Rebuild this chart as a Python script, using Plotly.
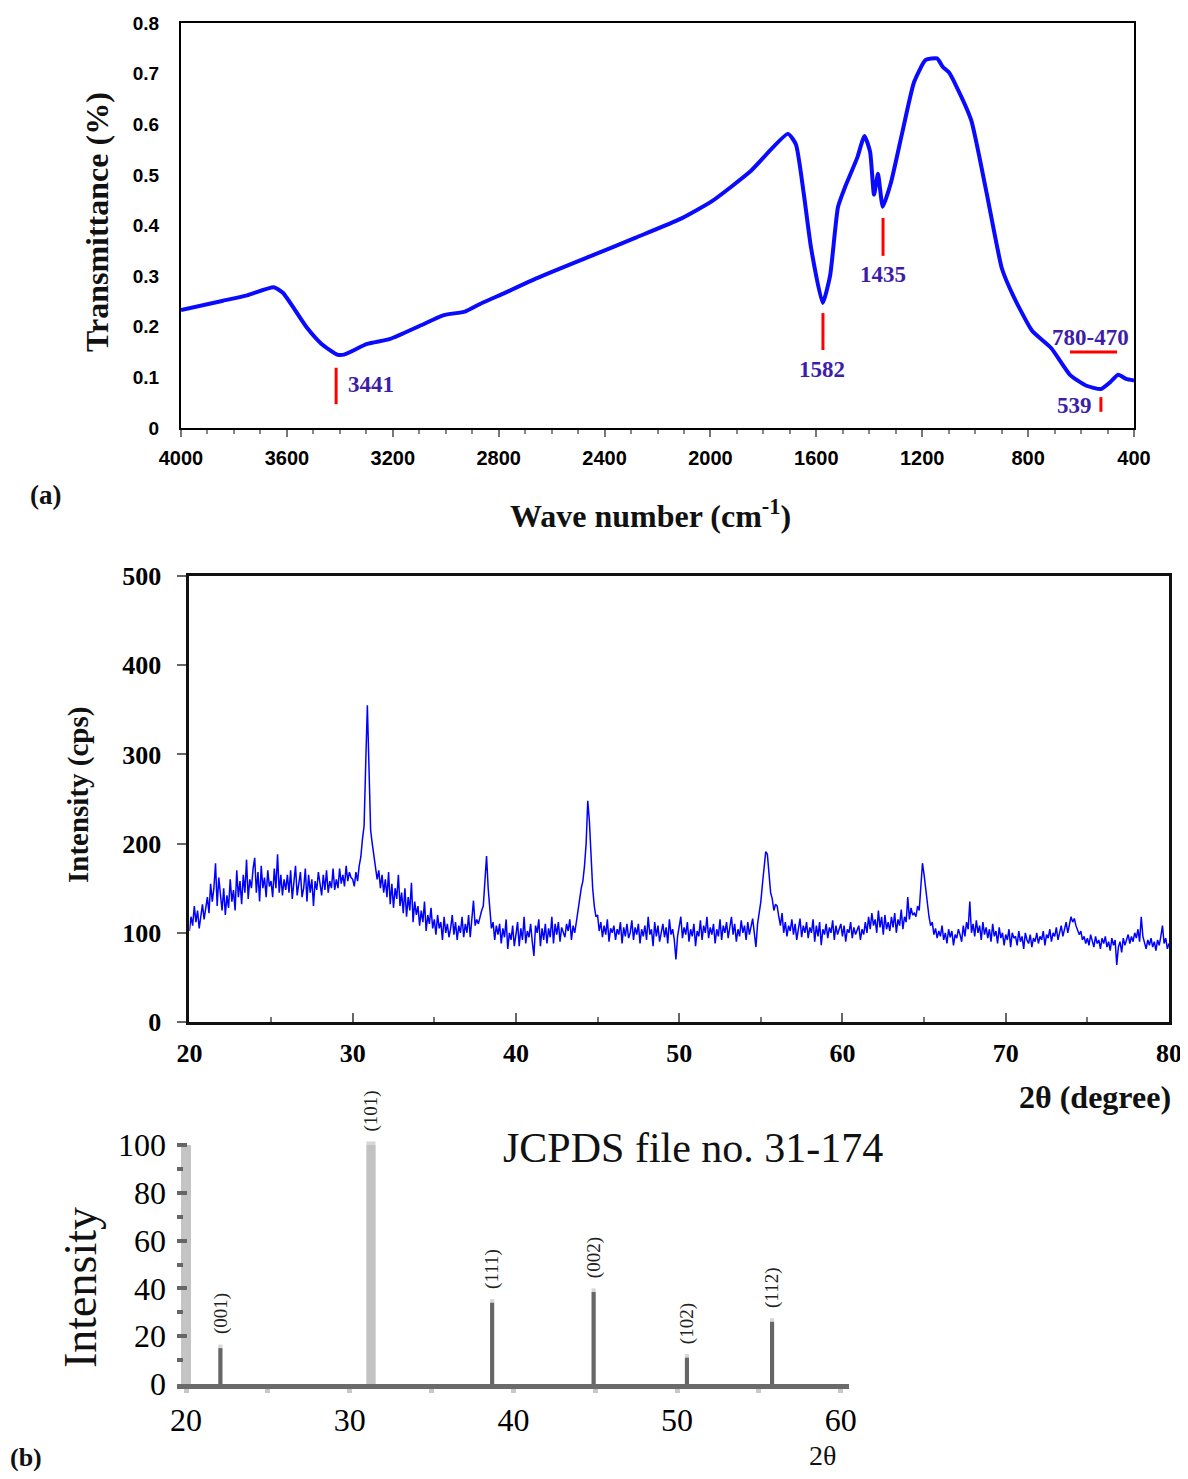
import numpy as np
import plotly.graph_objects as go

# page body keeps an 8 px margin, so the figure is 16 px smaller than the window
PAD = 8
W, H = 1188 - 2 * PAD, 1479 - 2 * PAD

# ---------------------------------- (a) FTIR spectrum ----------------------------------
wave_number = [4000, 3845, 3750, 3650, 3615, 3527, 3469, 3410, 3384, 3297, 3210, 3093,
               3007, 2927, 2863, 2776, 2660, 2455, 2282, 2109, 1994, 1851, 1707, 1677,
               1648, 1620, 1576, 1548, 1518, 1490, 1446, 1418, 1397, 1382, 1367, 1349,
               1318, 1274, 1231, 1187, 1144, 1122, 1100, 1072, 1015, 957, 899, 856,
               785, 713, 642, 582, 525, 489, 460, 430, 400]
transmittance = [0.233, 0.251, 0.262, 0.278, 0.267, 0.200, 0.166, 0.145, 0.145, 0.166, 0.176, 0.203,
                 0.223, 0.230, 0.247, 0.267, 0.295, 0.339, 0.376, 0.414, 0.448, 0.506, 0.581, 0.560,
                 0.465, 0.356, 0.247, 0.301, 0.437, 0.478, 0.533, 0.577, 0.546, 0.461, 0.502, 0.437,
                 0.485, 0.587, 0.683, 0.727, 0.730, 0.713, 0.703, 0.676, 0.608, 0.465, 0.315, 0.261,
                 0.192, 0.158, 0.105, 0.084, 0.077, 0.091, 0.105, 0.097, 0.094]

# band markers (red) and their labels
mark_wn = [3414, 1575, 1348, 525]
mark_lo = [0.047, 0.154, 0.340, 0.032]
mark_hi = [0.119, 0.227, 0.415, 0.061]
band_from, band_to, band_level = 642, 464, 0.150
band_labels = ["3441", "1582", "1435", "780-470", "539"]
label_wn = [3282, 1579, 1348, 566, 623]
label_t = [0.085, 0.115, 0.304, 0.178, 0.045]

# ---------------------------------- (b) XRD pattern ----------------------------------
two_theta = np.round(np.arange(200, 801) / 10, 1)
intensity = [
    102, 118, 108, 130, 112, 125, 105, 120, 132, 115,
    128, 140, 122, 155, 135, 150, 178, 130, 162, 138,
    125, 150, 120, 142, 128, 160, 135, 148, 125, 170,
    140, 158, 132, 165, 145, 182, 138, 160, 150, 172,
    184, 145, 168, 135, 175, 150, 162, 140, 170, 152,
    158, 140, 172, 150, 188, 145, 165, 142, 160, 148,
    165, 145, 170, 138, 160, 175, 142, 155, 168, 140,
    150, 172, 135, 165, 145, 160, 130, 158, 148, 168,
    152, 142, 165, 148, 170, 145, 158, 150, 172, 148,
    160, 150, 172, 155, 165, 152, 175, 158, 168, 162,
    160, 152, 168, 158, 175, 185, 205, 220, 290, 355,
    285, 215, 200, 185, 175, 160, 170, 150, 165, 145,
    160, 140, 168, 132, 155, 128, 150, 138, 165, 130,
    145, 122, 150, 118, 140, 125, 156, 112, 135, 120,
    130, 108, 125, 112, 135, 102, 120, 110, 128, 105,
    115, 98, 120, 105, 112, 92, 118, 100, 110, 95,
    105, 120, 98, 112, 92, 108, 100, 118, 95, 110,
    100, 120, 95, 112, 136, 108, 115, 110, 118, 125,
    130, 160, 186, 150, 125, 105, 112, 92, 108, 98,
    110, 88, 105, 95, 115, 82, 100, 92, 108, 85,
    98, 112, 85, 105, 92, 118, 88, 102, 95, 110,
    90, 74, 108, 100, 115, 85, 105, 92, 110, 88,
    105, 95, 118, 88, 110, 98, 112, 90, 106, 100,
    95, 110, 102, 115, 92, 108, 100, 112, 125, 140,
    150, 158, 175, 200, 248, 225, 185, 150, 130, 118,
    120, 102, 112, 95, 108, 98, 115, 90, 105, 100,
    108, 92, 104, 98, 112, 88, 106, 96, 110, 94,
    100, 114, 92, 106, 98, 110, 88, 104, 96, 108,
    92, 118, 98, 104, 85, 112, 96, 108, 90, 102,
    110, 95, 106, 88, 115, 98, 104, 92, 70, 96,
    108, 118, 94, 106, 98, 112, 90, 104, 96, 110,
    85, 102, 96, 114, 92, 108, 100, 118, 94, 106,
    98, 110, 88, 104, 96, 115, 92, 108, 100, 112,
    94, 106, 118, 98, 110, 90, 104, 96, 114, 100,
    108, 92, 112, 98, 106, 116, 100, 84, 110, 122,
    135, 155, 175, 191, 188, 165, 145, 138, 125, 132,
    130, 118, 108, 122, 100, 112, 96, 108, 102, 115,
    98, 110, 92, 104, 116, 95, 108, 100, 112, 94,
    106, 100, 115, 90, 108, 96, 112, 86, 104, 98,
    110, 94, 106, 100, 114, 92, 108, 98, 104, 110,
    96, 108, 90, 104, 100, 112, 94, 106, 98, 102,
    108, 92, 104, 98, 112, 100, 118, 104, 122, 108,
    115, 100, 125, 106, 118, 98, 120, 104, 112, 102,
    118, 106, 122, 100, 115, 108, 126, 104, 118, 112,
    140, 115, 128, 120, 122, 118, 130, 125, 150, 178,
    165, 148, 130, 118, 108, 112, 98, 105, 94, 102,
    96, 108, 92, 100, 88, 104, 95, 102, 86, 98,
    94, 104, 98, 90, 108, 96, 112, 104, 135, 100,
    110, 96, 114, 100, 108, 92, 112, 98, 106, 94,
    104, 90, 110, 96, 102, 88, 106, 94, 100, 86,
    98, 92, 104, 84, 100, 94, 96, 86, 102, 90,
    96, 82, 100, 92, 88, 98, 84, 94, 90, 100,
    88, 96, 92, 102, 86, 98, 94, 104, 90, 100,
    96, 106, 92, 100, 108, 96, 104, 112, 100, 110,
    118, 112, 116, 108, 104, 98, 102, 92, 96, 88,
    94, 86, 98, 90, 84, 96, 88, 92, 82, 94,
    88, 96, 84, 90, 80, 94, 86, 92, 64, 84,
    90, 78, 94, 86, 92, 98, 88, 96, 90, 100,
    94, 104, 90, 118, 96, 88, 82, 92, 86, 94,
    84, 90, 80, 92, 86, 96, 108, 88, 94, 82,
    88,
]

# ---------------------------------- JCPDS 31-174 sticks ----------------------------------
jcpds_hkl = ["(001)", "(101)", "(111)", "(002)", "(102)", "(112)"]
jcpds_2theta = [22.1, 31.3, 38.7, 44.9, 50.6, 55.8]
jcpds_int = [15, 100, 34, 38.5, 11, 26]


# window pixel -> paper fraction
def fx(p):
    return (p - PAD) / W


def fy(p):
    return 1 - (p - PAD) / H


blue_text = "#3c1eaa"
serif = "Liberation Serif"
sans = "Liberation Sans"

fig = go.Figure()

# FTIR curve
fig.add_trace(go.Scatter(x=wave_number, y=transmittance, mode="lines",
                         line=dict(color="#0a0aff", width=4, shape="spline", smoothing=0.5),
                         xaxis="x", yaxis="y", showlegend=False))

# red marks
mx, my = [], []
for w, lo, hi in zip(mark_wn, mark_lo, mark_hi):
    mx += [w, w, None]
    my += [lo, hi, None]
mx += [band_from, band_to]
my += [band_level, band_level]
fig.add_trace(go.Scatter(x=mx, y=my, mode="lines", line=dict(color="#ff0000", width=3),
                         xaxis="x", yaxis="y", showlegend=False))

# XRD
fig.add_trace(go.Scatter(x=two_theta, y=intensity, mode="lines",
                         line=dict(color="#0000ff", width=1.5),
                         xaxis="x2", yaxis="y2", showlegend=False))

# JCPDS sticks: light caps behind, dark sticks on top
widths = [0.55 if h == "(101)" else 0.25 for h in jcpds_hkl]
colors = ["#c2c2c2" if h == "(101)" else "#666666" for h in jcpds_hkl]
fig.add_trace(go.Bar(x=jcpds_2theta, y=[v + 1.5 for v in jcpds_int], width=widths,
                     marker=dict(color="#d6d6d6", line=dict(width=0)),
                     xaxis="x3", yaxis="y3", showlegend=False))
fig.add_trace(go.Bar(x=jcpds_2theta, y=jcpds_int, width=widths,
                     marker=dict(color=colors, line=dict(width=0)),
                     xaxis="x3", yaxis="y3", showlegend=False))

annotations = []
for t, w, tv in zip(band_labels, label_wn, label_t):
    annotations.append(dict(x=w, y=tv, xref="x", yref="y", text=t, showarrow=False,
                            xanchor="center", yanchor="middle",
                            font=dict(family=serif, size=23, color=blue_text, weight="bold")))

for h, x, v in zip(jcpds_hkl, jcpds_2theta, jcpds_int):
    annotations.append(dict(x=x, y=v + 5, xref="x3", yref="y3", text=h, showarrow=False,
                            textangle=-90, xanchor="center", yanchor="bottom",
                            font=dict(family=serif, size=19, color="#222222")))


def paper_text(px, py, text, size, bold=False, angle=0):
    return dict(x=fx(px), y=fy(py), xref="paper", yref="paper", text=text,
                showarrow=False, textangle=angle, xanchor="center", yanchor="middle",
                font=dict(family=serif, size=size, color="#111111",
                          weight="bold" if bold else "normal"))


annotations += [
    paper_text(97, 222, "Transmittance (%)", 32, True, -90),
    paper_text(650, 514, "Wave number (cm<sup>-1</sup>)", 32, True),
    paper_text(45, 495, "(a)", 27, True),
    paper_text(78, 795, "Intensity (cps)", 29, True, -90),
    paper_text(1095, 1097, "2θ (degree)", 32, True),
    paper_text(693, 1148, "JCPDS file no. 31-174", 42),
    paper_text(80, 1288, "Intensity", 46, False, -90),
    paper_text(822, 1455, "2θ", 28),
    paper_text(26, 1457, "(b)", 26, True),
]

# y-axis bar of the JCPDS plot
shapes = [dict(type="line", xref="x3", yref="y3", x0=20, x1=20, y0=-2, y1=100,
               line=dict(color="#c4c4c4", width=10), layer="below")]

ftir_ticks = [0, 0.1, 0.2, 0.3, 0.4, 0.5, 0.6, 0.7, 0.8]

fig.update_layout(
    template="none",
    width=W, height=H,
    margin=dict(l=0, r=0, t=0, b=0),
    paper_bgcolor="white", plot_bgcolor="white",
    barmode="overlay",
    annotations=annotations,
    shapes=shapes,
    xaxis=dict(domain=[fx(181), fx(1134)], range=[4000, 400], anchor="y", automargin=False,
               tickvals=list(range(4000, 399, -400)), ticks="outside", ticklen=7,
               tickcolor="#777777", tickwidth=1.5,
               minor=dict(dtick=100, ticks="outside", ticklen=4, tickcolor="#888888"),
               showline=True, mirror=True, linecolor="black", linewidth=2,
               showgrid=False, zeroline=False, ticklabelstandoff=4,
               tickfont=dict(family=sans, size=20, color="black", weight="bold")),
    yaxis=dict(domain=[fy(428), fy(23)], range=[0, 0.8], anchor="x", automargin=False,
               tickvals=ftir_ticks, ticktext=["0"] + [f"{v:.1f}" for v in ftir_ticks[1:]],
               ticks="", showline=True, mirror=True, linecolor="black", linewidth=2,
               showgrid=False, zeroline=False, ticklabelstandoff=16,
               tickfont=dict(family=sans, size=19, color="black", weight="bold")),
    xaxis2=dict(domain=[fx(189.4), fx(1169)], range=[20, 80], anchor="y2", automargin=False,
                tickvals=list(range(20, 81, 10)), ticks="inside", ticklen=9,
                tickcolor="#666666", tickwidth=1.5, ticklabeloverflow="allow",
                minor=dict(dtick=5, ticks="inside", ticklen=5, tickcolor="#777777"),
                showline=True, mirror=True, linecolor="#111111", linewidth=3,
                showgrid=False, zeroline=False, ticklabelstandoff=6,
                tickfont=dict(family=serif, size=26, color="black", weight="bold")),
    yaxis2=dict(domain=[fy(1022), fy(576)], range=[0, 500], anchor="x2", automargin=False,
                tickvals=list(range(0, 501, 100)), ticks="outside", ticklen=9,
                tickcolor="#666666", tickwidth=1.5,
                showline=True, mirror=True, linecolor="#111111", linewidth=3,
                showgrid=False, zeroline=False, ticklabelstandoff=11,
                tickfont=dict(family=serif, size=26, color="black", weight="bold")),
    xaxis3=dict(domain=[fx(177), fx(849)], range=[19.45, 60.5], anchor="y3", automargin=False,
                tickvals=list(range(20, 61, 10)),
                ticks="outside", ticklen=4, tickwidth=5, tickcolor="#c8c8c8",
                minor=dict(dtick=5, ticks="outside", ticklen=4, tickwidth=5,
                           tickcolor="#c8c8c8"),
                showline=True, linecolor="#6a6a6a", linewidth=5,
                showgrid=False, zeroline=False,
                tickfont=dict(family=serif, size=32, color="black")),
    yaxis3=dict(domain=[fy(1384), fy(1384 - 125 * 2.39)], range=[0, 125], anchor="x3",
                automargin=False,
                tickvals=list(range(0, 101, 20)), ticks="inside", ticklen=10, tickwidth=4,
                tickcolor="#666666",
                minor=dict(tickvals=list(range(10, 100, 20)), ticks="inside", ticklen=6,
                           tickwidth=4, tickcolor="#666666"),
                showline=False, showgrid=False, zeroline=False, ticklabelstandoff=10,
                tickfont=dict(family=serif, size=32, color="black")),
)

fig.write_html("out.html")
